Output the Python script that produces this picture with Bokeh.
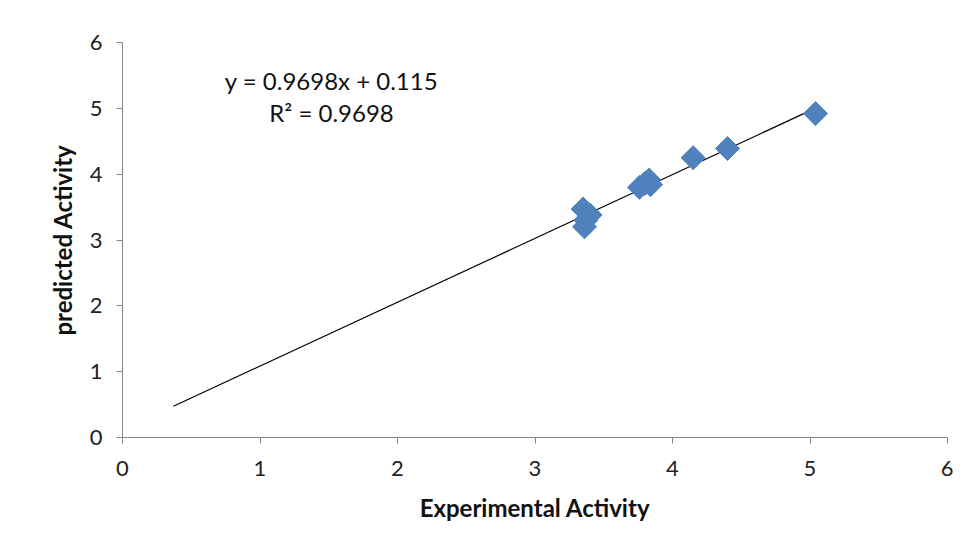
import math
from bokeh.plotting import figure
from bokeh.models import Range1d, Label, FixedTicker
from bokeh.embed import file_html
from bokeh.resources import INLINE

experimental = [3.35, 3.40, 3.37, 3.36, 3.76, 3.80, 3.83, 3.84, 4.15, 4.40, 5.04]
predicted    = [3.47, 3.38, 3.30, 3.20, 3.80, 3.86, 3.91, 3.84, 4.25, 4.39, 4.92]
slope, intercept = 0.9698, 0.115
trend_x = [0.37, 5.04]
ticks = [0, 1, 2, 3, 4, 5, 6]
eq_text = "y = 0.9698x + 0.115"
r2_text = "R\u00b2 = 0.9698"

FONT = "Lato"
AXIS_COLOR = "#868686"

p = figure(width=953, height=540, output_backend="svg", toolbar_location=None,
           x_range=Range1d(0, 6), y_range=Range1d(0, 6),
           min_border_left=122, min_border_right=6, min_border_top=42, min_border_bottom=103)
p.outline_line_color = None
p.xgrid.visible = False
p.ygrid.visible = False

trend_y = [slope * x + intercept for x in trend_x]
p.line(trend_x, trend_y, line_color="black", line_width=1.2)
p.scatter(experimental, predicted, marker="square", size=17, angle=math.pi / 4,
          fill_color="#4F81BD", line_color="#4F81BD")

for ax in (p.xaxis, p.yaxis):
    ax.ticker = FixedTicker(ticks=ticks)
    ax.minor_tick_line_color = None
    ax.axis_line_color = AXIS_COLOR
    ax.major_tick_line_color = AXIS_COLOR
    ax.major_tick_in = 0
    ax.major_tick_out = 6
    ax.major_label_text_font = FONT
    ax.major_label_text_font_size = "22px"
    ax.major_label_text_color = "#222222"
    ax.axis_label_text_font = FONT
    ax.axis_label_text_font_size = "24px"
    ax.axis_label_text_font_style = "bold"
    ax.axis_label_text_color = "#111111"

p.xaxis.axis_label = "Experimental Activity"
p.yaxis.axis_label = "predicted Activity"
p.xaxis.major_label_standoff = 17
p.yaxis.major_label_standoff = 14
p.xaxis.axis_label_standoff = 14
p.yaxis.axis_label_standoff = 10

p.add_layout(Label(x=1.52, y=5.43, text=eq_text, text_align="center", text_baseline="middle",
                   text_font=FONT, text_font_size="24px", text_color="#111111"))
p.add_layout(Label(x=1.52, y=4.93, text=r2_text, text_align="center", text_baseline="middle",
                   text_font=FONT, text_font_size="24px", text_color="#111111"))

open("out.html", "w").write(file_html(p, INLINE))
